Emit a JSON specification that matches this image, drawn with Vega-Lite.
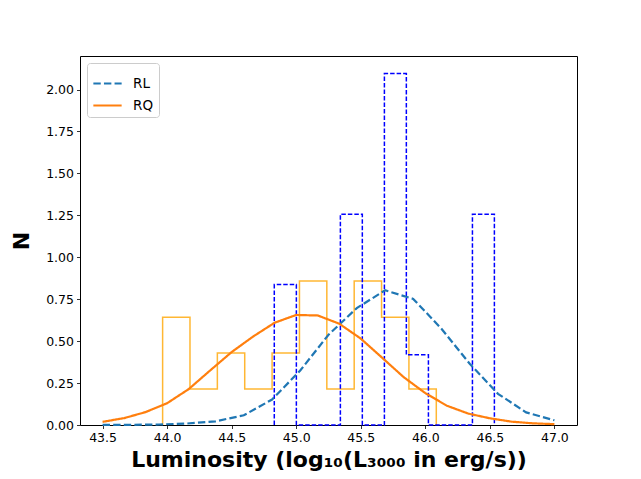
{
  "$schema": "https://vega.github.io/schema/vega-lite/v6.json",
  "width": 497,
  "height": 369,
  "autosize": {"type": "none"},
  "padding": {"left": 80, "top": 56, "right": 64, "bottom": 54},
  "background": "white",
  "datasets": {
    "rq_hist": [
      {"i": 0, "x": 43.965, "y": 0},
      {"i": 1, "x": 43.965, "y": 0.643},
      {"i": 2, "x": 44.177, "y": 0.214},
      {"i": 3, "x": 44.389, "y": 0.429},
      {"i": 4, "x": 44.601, "y": 0.214},
      {"i": 5, "x": 44.813, "y": 0.429},
      {"i": 6, "x": 45.025, "y": 0.858},
      {"i": 7, "x": 45.237, "y": 0.214},
      {"i": 8, "x": 45.449, "y": 0.858},
      {"i": 9, "x": 45.661, "y": 0.643},
      {"i": 10, "x": 45.873, "y": 0.214},
      {"i": 11, "x": 46.085, "y": 0}
    ],
    "rl_hist": [
      {"i": 0, "x": 44.83, "y": 0},
      {"i": 1, "x": 44.83, "y": 0.838},
      {"i": 2, "x": 45.001, "y": 0},
      {"i": 3, "x": 45.171, "y": 0},
      {"i": 4, "x": 45.342, "y": 1.257},
      {"i": 5, "x": 45.512, "y": 0},
      {"i": 6, "x": 45.683, "y": 2.095},
      {"i": 7, "x": 45.853, "y": 0.419},
      {"i": 8, "x": 46.024, "y": 0},
      {"i": 9, "x": 46.194, "y": 0},
      {"i": 10, "x": 46.365, "y": 1.257},
      {"i": 11, "x": 46.535, "y": 0}
    ],
    "curves": [
      {"sample": "RL", "x": 43.5, "y": 0.001},
      {"sample": "RL", "x": 43.719, "y": 0.001},
      {"sample": "RL", "x": 43.938, "y": 0.003},
      {"sample": "RL", "x": 44.156, "y": 0.009},
      {"sample": "RL", "x": 44.375, "y": 0.022},
      {"sample": "RL", "x": 44.594, "y": 0.058},
      {"sample": "RL", "x": 44.813, "y": 0.152},
      {"sample": "RL", "x": 45.031, "y": 0.325},
      {"sample": "RL", "x": 45.25, "y": 0.538},
      {"sample": "RL", "x": 45.469, "y": 0.697},
      {"sample": "RL", "x": 45.688, "y": 0.803},
      {"sample": "RL", "x": 45.906, "y": 0.752},
      {"sample": "RL", "x": 46.125, "y": 0.574},
      {"sample": "RL", "x": 46.344, "y": 0.365},
      {"sample": "RL", "x": 46.563, "y": 0.186},
      {"sample": "RL", "x": 46.781, "y": 0.075},
      {"sample": "RL", "x": 47.0, "y": 0.028},
      {"sample": "RQ", "x": 43.5, "y": 0.019},
      {"sample": "RQ", "x": 43.667, "y": 0.041},
      {"sample": "RQ", "x": 43.833, "y": 0.077},
      {"sample": "RQ", "x": 44.0, "y": 0.13},
      {"sample": "RQ", "x": 44.167, "y": 0.214},
      {"sample": "RQ", "x": 44.333, "y": 0.325},
      {"sample": "RQ", "x": 44.5, "y": 0.435},
      {"sample": "RQ", "x": 44.667, "y": 0.528},
      {"sample": "RQ", "x": 44.833, "y": 0.61},
      {"sample": "RQ", "x": 45.0, "y": 0.656},
      {"sample": "RQ", "x": 45.167, "y": 0.653},
      {"sample": "RQ", "x": 45.333, "y": 0.604},
      {"sample": "RQ", "x": 45.5, "y": 0.515},
      {"sample": "RQ", "x": 45.667, "y": 0.4},
      {"sample": "RQ", "x": 45.833, "y": 0.285},
      {"sample": "RQ", "x": 46.0, "y": 0.19},
      {"sample": "RQ", "x": 46.167, "y": 0.115},
      {"sample": "RQ", "x": 46.333, "y": 0.068},
      {"sample": "RQ", "x": 46.5, "y": 0.04},
      {"sample": "RQ", "x": 46.667, "y": 0.02},
      {"sample": "RQ", "x": 46.833, "y": 0.01},
      {"sample": "RQ", "x": 47.0, "y": 0.005}
    ]
  },
  "encoding": {
    "x": {
      "field": "x",
      "type": "quantitative",
      "scale": {"domain": [43.325, 47.175], "nice": false, "zero": false},
      "axis": {
        "values": [43.5, 44.0, 44.5, 45.0, 45.5, 46.0, 46.5, 47.0],
        "format": ".1f",
        "title": "Luminosity (log₁₀(L₃₀₀₀ in erg/s))",
        "titlePadding": 5
      }
    },
    "y": {
      "field": "y",
      "type": "quantitative",
      "scale": {"domain": [0, 2.2], "nice": false},
      "axis": {
        "values": [0, 0.25, 0.5, 0.75, 1.0, 1.25, 1.5, 1.75, 2.0],
        "format": ".2f",
        "title": "N",
        "titlePadding": 12
      }
    }
  },
  "layer": [
    {
      "data": {"name": "rq_hist"},
      "mark": {"type": "line", "interpolate": "step-after", "color": "orange", "opacity": 0.8, "strokeWidth": 1.5},
      "encoding": {"order": {"field": "i", "type": "quantitative"}}
    },
    {
      "data": {"name": "rl_hist"},
      "mark": {"type": "line", "interpolate": "step-after", "color": "blue", "strokeWidth": 1.5, "strokeDash": [4.5, 2]},
      "encoding": {"order": {"field": "i", "type": "quantitative"}}
    },
    {
      "data": {"name": "curves"},
      "mark": {"type": "line", "strokeWidth": 2.2},
      "encoding": {
        "color": {
          "field": "sample",
          "type": "nominal",
          "scale": {"domain": ["RL", "RQ"], "range": ["#1f77b4", "#ff7f0e"]},
          "legend": {"title": null}
        },
        "strokeDash": {
          "field": "sample",
          "type": "nominal",
          "scale": {"domain": ["RL", "RQ"], "range": [[7.4, 3.2], [1, 0]]},
          "legend": {"title": null}
        }
      }
    }
  ],
  "config": {
    "view": {"stroke": "black", "strokeWidth": 1},
    "axis": {
      "grid": false,
      "domain": false,
      "ticks": true,
      "tickColor": "black",
      "tickSize": 3.5,
      "tickWidth": 0.8,
      "labelFont": "DejaVu Sans",
      "labelFontSize": 12.5,
      "labelColor": "black",
      "labelPadding": 3,
      "labelFlush": false,
      "labelOverlap": false,
      "titleFont": "DejaVu Sans",
      "titleFontWeight": "bold",
      "titleFontSize": 22,
      "titleColor": "black"
    },
    "legend": {
      "orient": "top-left",
      "offset": 7,
      "padding": 5,
      "strokeColor": "#cccccc",
      "fillColor": "white",
      "cornerRadius": 3,
      "labelFont": "DejaVu Sans",
      "labelFontSize": 13.5,
      "labelColor": "black",
      "labelOffset": 10,
      "symbolType": "stroke",
      "symbolSize": 800,
      "symbolStrokeWidth": 2,
      "rowPadding": -8
    }
  }
}
